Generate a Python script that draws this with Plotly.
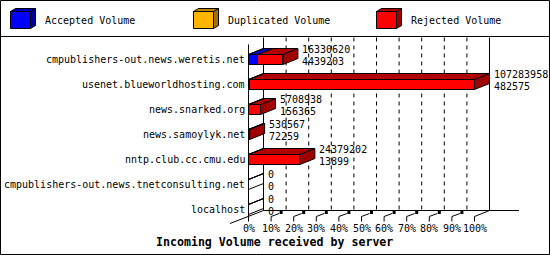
import plotly.graph_objects as go

# ---------------- data ----------------
servers = [
    "cmpublishers-out.news.weretis.net",
    "usenet.blueworldhosting.com",
    "news.snarked.org",
    "news.samoylyk.net",
    "nntp.club.cc.cmu.edu",
    "cmpublishers-out.news.tnetconsulting.net",
    "localhost",
]
rejected_volume = [16330620, 107283958, 5708938, 530567, 24379202, 0, 0]
accepted_volume = [4439203, 482575, 156365, 72259, 13899, 0, 0]
legend_names = ["Accepted Volume", "Duplicated Volume", "Rejected Volume"]
tick_values = [0, 10, 20, 30, 40, 50, 60, 70, 80, 90, 100]
tick_labels = ["0%", "10%", "20%", "30%", "40%", "50%", "60%", "70%", "80%", "90%", "100%"]
chart_title = "Incoming Volume received by server"

# ---------------- styles / geometry ----------------
W, H = 550, 255
X0PX = 248.5      # pixel of 0 %
PXPCT = 2.26      # pixels per percent
Y0PX = 59.5       # pixel of first category
PXROW = 25        # pixels per category
DEPTH_X, DEPTH_Y = 15, -6   # 3D depth in pixels
HALF = 5                    # half bar height in px
MONO = "DejaVu Sans Mono"
front_cols = ["#0000ff", "#ffb400", "#ff0000"]
top_cols = ["#0000c0", "#c08800", "#b00000"]
side_cols = ["#0000a0", "#a07000", "#a00000"]

ddx = DEPTH_X / PXPCT
ddy = DEPTH_Y / PXROW
hh = HALF / PXROW


def xd(px):
    return (px - X0PX) / PXPCT


def yd(py):
    return (py - Y0PX) / PXROW


def xp(px):
    return px / W


def yp(py):
    return 1 - py / H


vmax = max(rejected_volume + accepted_volume)
rej_pct = [v / vmax * 100 for v in rejected_volume]
acc_pct = [v / vmax * 100 for v in accepted_volume]
ys = list(range(len(servers)))

fig = go.Figure()
fig.add_trace(go.Bar(orientation="h", y=ys, x=rej_pct, width=2 * hh,
                     marker=dict(color=front_cols[2], line=dict(color="black", width=1)),
                     hoverinfo="skip", showlegend=False))
fig.add_trace(go.Bar(orientation="h", y=ys, x=acc_pct, width=2 * hh,
                     marker=dict(color=front_cols[0], line=dict(color="black", width=1)),
                     hoverinfo="skip", showlegend=False))

shapes = []
K = dict(xref="x", yref="y")
thin = dict(color="black", width=1)
dash = dict(color="black", width=1, dash="4px,4px")

wall_top = yd(37.5)
floor_back = yd(210.5)
floor_front = yd(216.5)

# back wall gridlines (dashed)
for t in tick_values[1:-1]:
    shapes.append(dict(type="line", x0=t + ddx, x1=t + ddx, y0=wall_top, y1=floor_back,
                       line=dash, layer="below", **K))
# back wall verticals
shapes.append(dict(type="line", x0=ddx, x1=ddx, y0=wall_top, y1=floor_back, line=thin, layer="below", **K))
shapes.append(dict(type="line", x0=100 + ddx, x1=100 + ddx, y0=wall_top, y1=floor_back, line=thin, layer="below", **K))
# front left vertical
shapes.append(dict(type="line", x0=0, x1=0, y0=yd(44.5), y1=floor_front, line=thin, layer="below", **K))
# floor back line
shapes.append(dict(type="line", x0=ddx, x1=xd(519), y0=floor_back, y1=floor_back, line=thin, layer="below", **K))
# floor left diagonal (extended)
shapes.append(dict(type="line", x0=xd(230), x1=ddx, y0=yd(223.5), y1=floor_back, line=thin, layer="below", **K))
# floor right diagonal
shapes.append(dict(type="line", x0=100, x1=100 + ddx, y0=floor_front, y1=floor_back, line=thin, layer="below", **K))
# front ticks with small floor marks
for t in tick_values:
    shapes.append(dict(type="line", x0=t, x1=t, y0=floor_front, y1=yd(221.5), line=thin, layer="below", **K))
    if 0 < t < 100:
        shapes.append(dict(type="line", x0=t, x1=t + 8 / PXPCT, y0=floor_front, y1=yd(213.5),
                           line=thin, layer="below", **K))
        shapes.append(dict(type="rect", x0=t + 8.5 / PXPCT, x1=t + 11.5 / PXPCT, y0=yd(211), y1=yd(214),
                           fillcolor="black", line=dict(width=0), layer="below", **K))


def poly(pts):
    return "M " + " L ".join(f"{a},{b}" for a, b in pts) + " Z"


for i in ys:
    L = rej_pct[i]
    A = acc_pct[i]
    top = i - hh
    bot = i + hh
    fill_ok = L > 0
    # top face (red)
    shapes.append(dict(type="path", path=poly([(0, top), (L, top), (L + ddx, top + ddy), (ddx, top + ddy)]),
                       fillcolor=top_cols[2] if fill_ok else "rgba(0,0,0,0)", line=thin, **K))
    # side face (red)
    shapes.append(dict(type="path", path=poly([(L, top), (L + ddx, top + ddy), (L + ddx, bot + ddy), (L, bot)]),
                       fillcolor=side_cols[2] if fill_ok else "rgba(0,0,0,0)", line=thin, **K))
    # top face (blue)
    if A > 0:
        shapes.append(dict(type="path", path=poly([(0, top), (A, top), (A + ddx, top + ddy), (ddx, top + ddy)]),
                           fillcolor=top_cols[0], line=thin, **K))

# frame, separator
shapes.append(dict(type="rect", xref="paper", yref="paper", x0=xp(0.5), x1=xp(549.5), y0=yp(0.5), y1=yp(254.5),
                   line=thin, layer="above"))
shapes.append(dict(type="line", xref="paper", yref="paper", x0=0, x1=1, y0=yp(36.5), y1=yp(36.5), line=thin))

# legend cubes
annotations = []
for k, name in enumerate(legend_names):
    x = 10.5 + 183 * k
    f = [(x, 11.5), (x + 20, 11.5), (x + 20, 28.5), (x, 28.5)]
    tp = [(x, 11.5), (x + 20, 11.5), (x + 25, 8.5), (x + 5, 8.5)]
    sd = [(x + 20, 11.5), (x + 25, 8.5), (x + 25, 25.5), (x + 20, 28.5)]
    for pts, col in ((f, front_cols[k]), (tp, top_cols[k]), (sd, side_cols[k])):
        shapes.append(dict(type="path", xref="paper", yref="paper",
                           path=poly([(xp(a), yp(b)) for a, b in pts]), fillcolor=col, line=thin))
    annotations.append(dict(xref="paper", yref="paper", x=xp(x + 32), y=yp(20.5), text=name,
                            xanchor="left", yanchor="middle", showarrow=False,
                            font=dict(family=MONO, size=10, color="black")))

# category labels
for i, s in enumerate(servers):
    annotations.append(dict(x=0, y=i, text=s, xanchor="right", yanchor="middle", xshift=-2,
                            showarrow=False, font=dict(family=MONO, size=10, color="black"), **K))
    xr_ = rej_pct[i] + ddx
    annotations.append(dict(x=xr_, y=i - 10 / PXROW, text=str(rejected_volume[i]), xanchor="left",
                            yanchor="middle", xshift=2, showarrow=False,
                            font=dict(family=MONO, size=10, color="black"), **K))
    annotations.append(dict(x=xr_, y=i + 1.6 / PXROW, text=str(accepted_volume[i]), xanchor="left",
                            yanchor="middle", xshift=2, showarrow=False,
                            font=dict(family=MONO, size=10, color="black"), **K))

# tick labels
for t, lab in zip(tick_values, tick_labels):
    annotations.append(dict(x=t, y=yd(228.5), text=lab, xanchor="center", yanchor="middle",
                            showarrow=False, font=dict(family=MONO, size=10, color="black"), **K))

annotations.append(dict(xref="paper", yref="paper", x=xp(274.5), y=yp(241.5), text=chart_title,
                        xanchor="center", yanchor="middle", showarrow=False,
                        font=dict(family=MONO, size=11.6, color="black", weight="bold")))

fig.update_layout(
    width=W, height=H, margin=dict(l=0, r=0, t=0, b=0),
    paper_bgcolor="white", plot_bgcolor="white",
    barmode="overlay", bargap=0,
    xaxis=dict(range=[xd(0), xd(W)], visible=False, fixedrange=True),
    yaxis=dict(range=[yd(H), yd(0)], visible=False, fixedrange=True),
    shapes=shapes, annotations=annotations, showlegend=False,
)

fig.write_html("out.html")
